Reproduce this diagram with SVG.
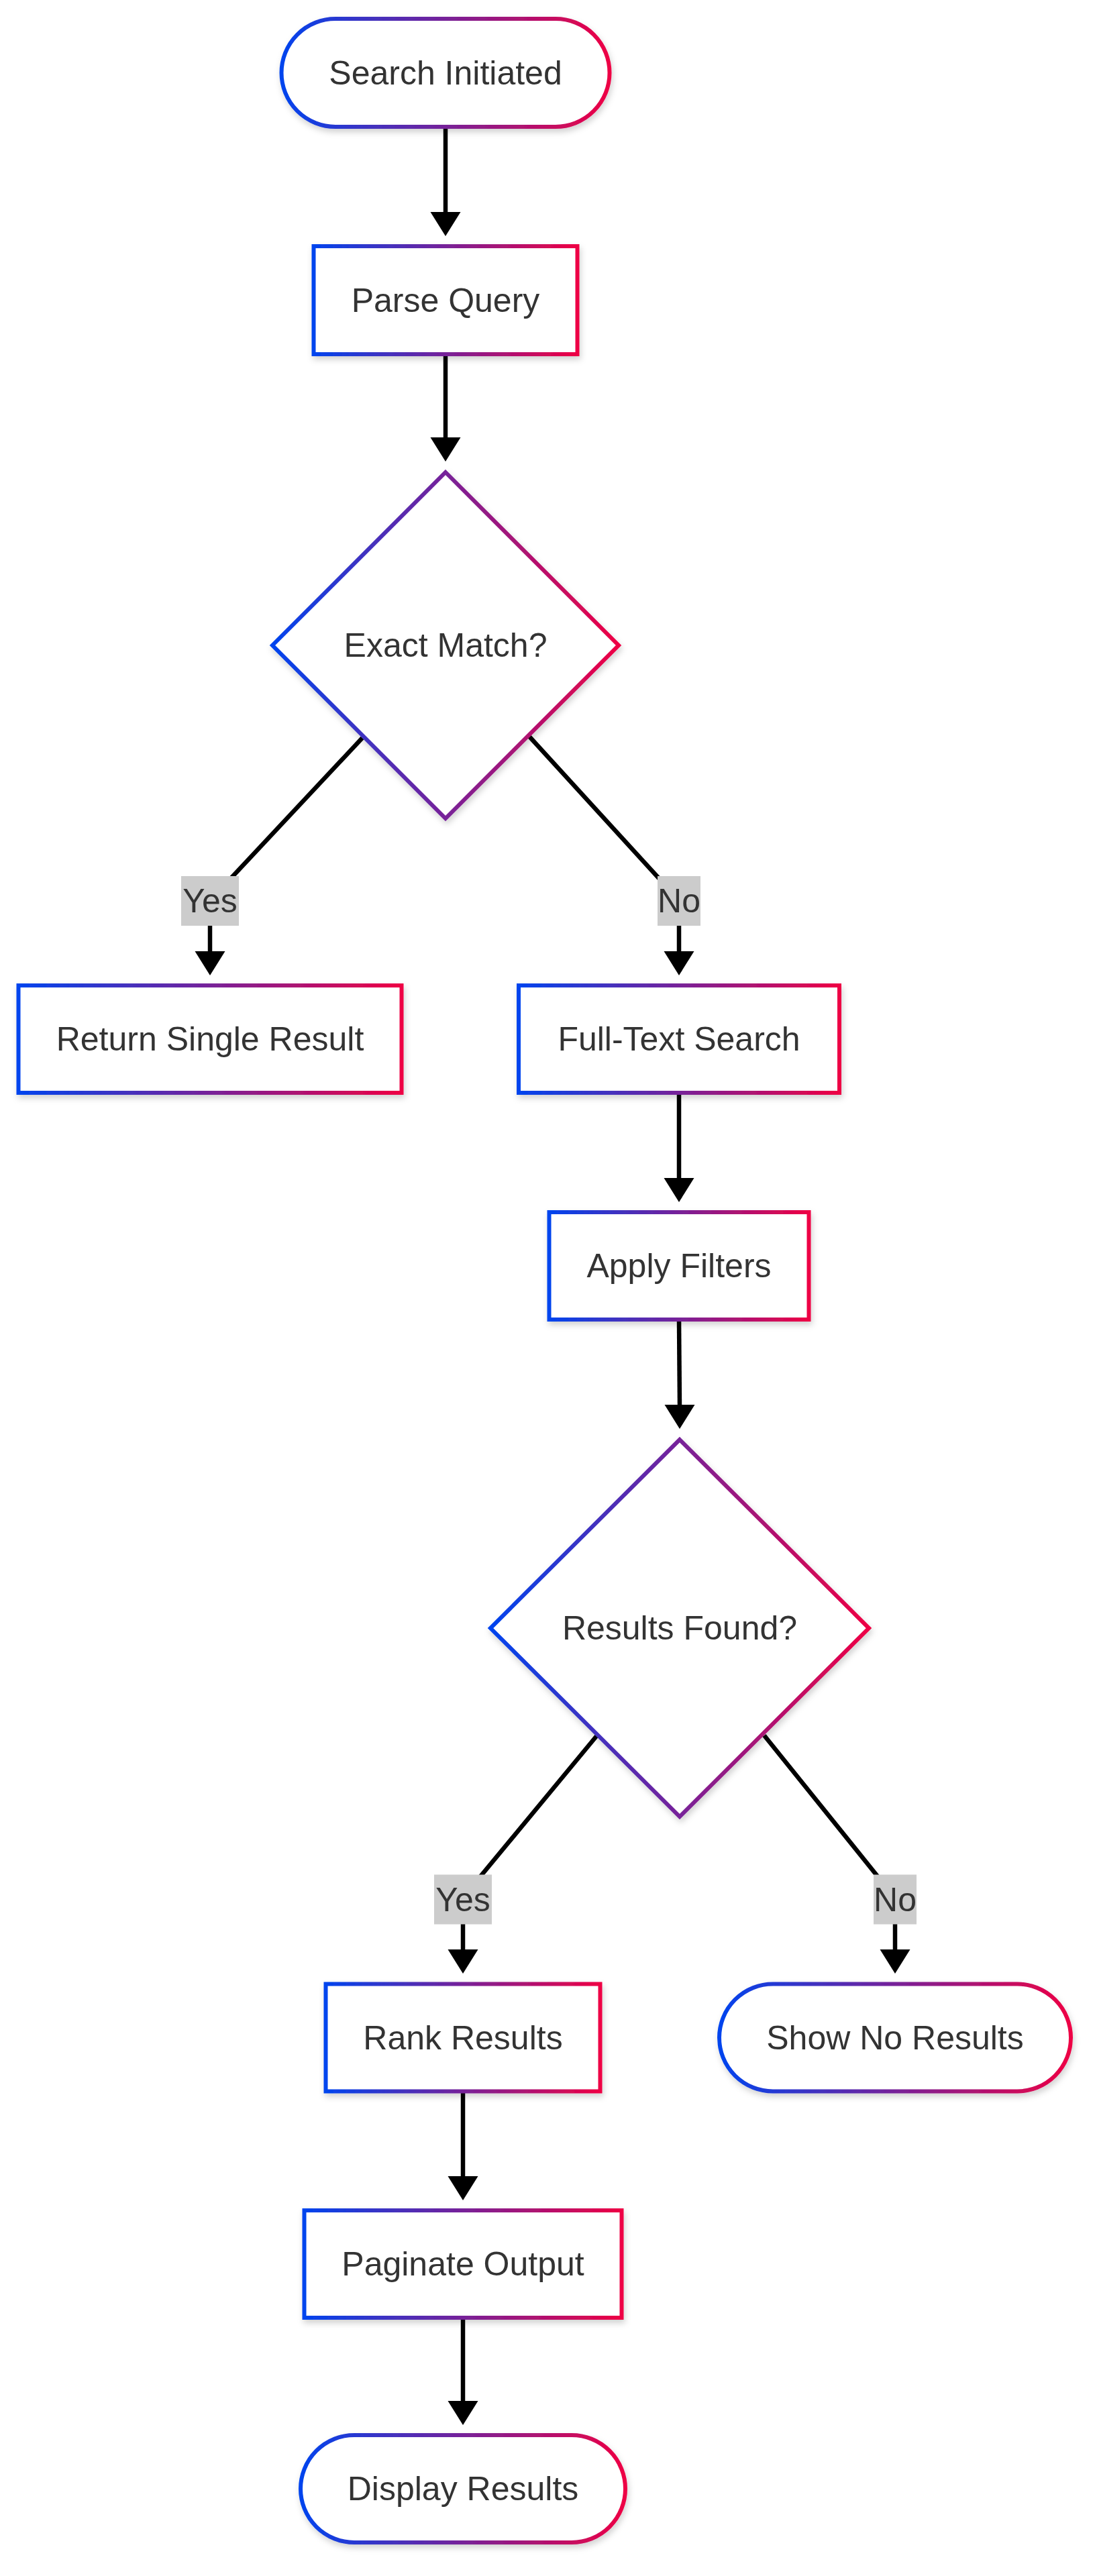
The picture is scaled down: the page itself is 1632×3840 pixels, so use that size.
<svg xmlns="http://www.w3.org/2000/svg" width="1632" height="3840" viewBox="0 0 1632 3840">
<defs>
<linearGradient id="g" x1="0" y1="0" x2="1" y2="0">
<stop offset="0" stop-color="#0044ee"/>
<stop offset="1" stop-color="#ee0044"/>
</linearGradient>
<filter id="sh" x="-20%" y="-20%" width="140%" height="150%">
<feDropShadow dx="2" dy="5" stdDeviation="5" flood-color="#000" flood-opacity="0.18"/>
</filter>
<marker id="ah" markerUnits="userSpaceOnUse" markerWidth="46" markerHeight="38" refX="0" refY="23" orient="auto" viewBox="0 0 38 46">
<path d="M0,0 L36,23 L0,46 z" fill="#000"/>
</marker>
</defs>
<style>
.node rect,.node path,.node polygon{fill:#fff;stroke:url(#g);stroke-width:6;filter:url(#sh)}
.lbl{font-family:"Liberation Sans",Arial,sans-serif;font-size:50px;fill:#333;text-anchor:middle}
.edge{fill:none;stroke:#000;stroke-width:6.5}
.arrow{fill:#000}
.ebg{fill:#cccccc}
</style>
<rect width="1632" height="3840" fill="#fff"/>
<g id="connectors">
<path class="edge" d="M664,189 L664,318"/>
<polygon class="arrow" points="641.5,316 686.5,316 664,352"/>
<path class="edge" d="M664,528 L664,654"/>
<polygon class="arrow" points="641.5,652 686.5,652 664,688"/>
<path class="edge" d="M540,1100 L334,1320 Q313,1343 313,1380 L313,1420"/>
<polygon class="arrow" points="290.5,1418 335.5,1418 313,1454"/>
<path class="edge" d="M789,1098 L990,1318 Q1012,1343 1012,1380 L1012,1420"/>
<polygon class="arrow" points="989.5,1418 1034.5,1418 1012,1454"/>
<path class="edge" d="M1012,1629 L1012,1758"/>
<polygon class="arrow" points="989.5,1756 1034.5,1756 1012,1792"/>
<path class="edge" d="M1012,1967 L1013,2096"/>
<polygon class="arrow" points="990.5,2094 1035.5,2094 1013,2130"/>
<path class="edge" d="M889,2588 L712,2802 Q690,2830 690,2869 L690,2908"/>
<polygon class="arrow" points="667.5,2906 712.5,2906 690,2942"/>
<path class="edge" d="M1139,2587 L1312,2802 Q1334,2830 1334,2869 L1334,2908"/>
<polygon class="arrow" points="1311.5,2906 1356.5,2906 1334,2942"/>
<path class="edge" d="M690,3118 L690,3246"/>
<polygon class="arrow" points="667.5,3244 712.5,3244 690,3280"/>
<path class="edge" d="M690,3455 L690,3581"/>
<polygon class="arrow" points="667.5,3579 712.5,3579 690,3615"/>
<g id="edge-labels">
<rect class="ebg" x="270" y="1306" width="86" height="74"/>
<text class="lbl" x="313" y="1360">Yes</text>
<rect class="ebg" x="980" y="1306" width="64" height="74"/>
<text class="lbl" x="1012" y="1360">No</text>
<rect class="ebg" x="647" y="2794.5" width="86" height="74"/>
<text class="lbl" x="690" y="2848.5">Yes</text>
<rect class="ebg" x="1302" y="2794.5" width="64" height="74"/>
<text class="lbl" x="1334" y="2848.5">No</text>
</g>
</g>
<g id="start" class="node">
<rect x="419.5" y="28" width="489" height="161" rx="80.5" ry="80.5"/>
<text class="lbl" x="664" y="126">Search Initiated</text>
</g>
<g id="parse" class="node">
<rect x="467.5" y="367" width="393" height="161"/>
<text class="lbl" x="664" y="465">Parse Query</text>
</g>
<g id="exact" class="node">
<polygon points="664,704 922,962 664,1220 406,962"/>
<text class="lbl" x="664" y="979">Exact Match?</text>
</g>
<g id="single" class="node">
<rect x="27.5" y="1469" width="571" height="160"/>
<text class="lbl" x="313" y="1566">Return Single Result</text>
</g>
<g id="fulltext" class="node">
<rect x="773" y="1469" width="478" height="160"/>
<text class="lbl" x="1012" y="1566">Full-Text Search</text>
</g>
<g id="filters" class="node">
<rect x="818.5" y="1807" width="387" height="160"/>
<text class="lbl" x="1012" y="1904">Apply Filters</text>
</g>
<g id="found" class="node">
<polygon points="1013,2146 1295,2427 1013,2708 731,2427"/>
<text class="lbl" x="1013" y="2444">Results Found?</text>
</g>
<g id="rank" class="node">
<rect x="485.5" y="2957.5" width="409" height="160"/>
<text class="lbl" x="690" y="3054.5">Rank Results</text>
</g>
<g id="noresults" class="node">
<rect x="1072" y="2957.5" width="524" height="160" rx="80" ry="80"/>
<text class="lbl" x="1334" y="3054.5">Show No Results</text>
</g>
<g id="paginate" class="node">
<rect x="453.5" y="3295" width="473" height="160"/>
<text class="lbl" x="690" y="3392">Paginate Output</text>
</g>
<g id="display" class="node">
<rect x="448" y="3630" width="484" height="160" rx="80" ry="80"/>
<text class="lbl" x="690" y="3727">Display Results</text>
</g>
</svg>
